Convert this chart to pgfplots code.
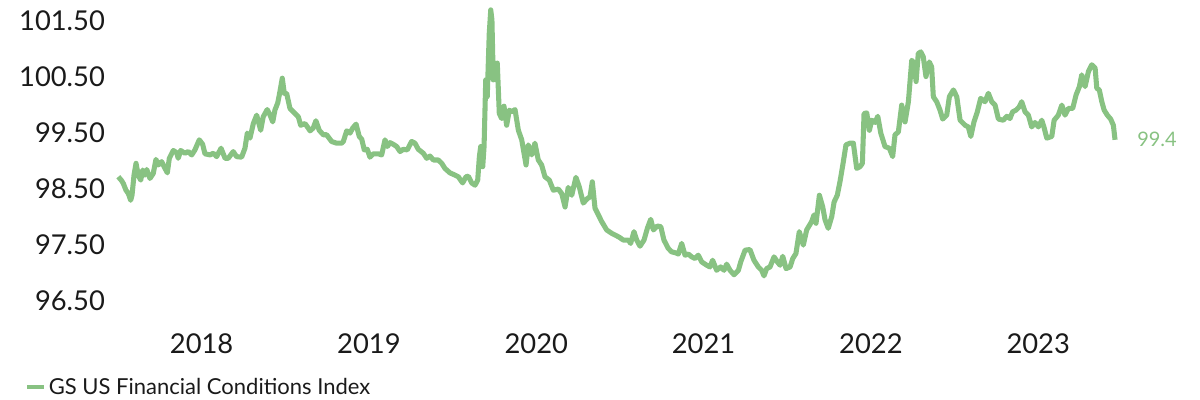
\documentclass[border=0pt]{standalone}
\usepackage{fontspec}
\setmainfont{Lato}
\usepackage{pgfplots}
\pgfplotsset{compat=1.18}
\definecolor{fcigreen}{RGB}{136,194,130}
\definecolor{txt}{RGB}{26,26,26}
\begin{document}
\begin{tikzpicture}
\begin{axis}[
  scale only axis, width=765.5pt, height=245.7pt,
  xmin=2017.95, xmax=2024.05, ymin=96.0, ymax=101.85,
  axis line style={draw=none}, tick style={draw=none},
  major tick length=0pt,
  xtick={2018.5,2019.5,2020.5,2021.5,2022.5,2023.5},
  xticklabels={2018,2019,2020,2021,2022,2023},
  ytick={96.5,97.5,98.5,99.5,100.5,101.5},
  yticklabel style={/pgf/number format/.cd, fixed, fixed zerofill, precision=2, assume math mode=true, /tikz/.cd, font=\fontsize{20.5}{24}\selectfont, text=txt},
  xticklabel style={font=\fontsize{20.5}{24}\selectfont, text=txt},
  clip=false,
  legend style={at={(-0.083,-0.179)}, anchor=west, draw=none, fill=none, font=\fontsize{16.5}{19}\selectfont, text=txt, inner sep=0pt, legend cell align=left},
  legend image code/.code={\draw[#1, line width=3pt] (0pt,0pt) -- (12.75pt,0pt);},
]
\addplot[color=fcigreen, line width=3.8pt, line join=round, mark=none] table {
x y
2018.002 98.71
2018.022 98.64
2018.032 98.59
2018.048 98.47
2018.062 98.41
2018.076 98.29
2018.084 98.38
2018.096 98.74
2018.108 98.95
2018.121 98.74
2018.136 98.65
2018.148 98.83
2018.161 98.74
2018.172 98.84
2018.191 98.68
2018.211 98.77
2018.227 99.02
2018.241 98.92
2018.261 98.98
2018.281 98.86
2018.295 98.78
2018.307 99.04
2018.331 99.18
2018.351 99.14
2018.360 99.04
2018.375 99.18
2018.400 99.13
2018.420 99.16
2018.441 99.10
2018.460 99.19
2018.486 99.37
2018.506 99.29
2018.520 99.12
2018.550 99.10
2018.570 99.13
2018.590 99.07
2018.616 99.22
2018.640 99.04
2018.659 99.04
2018.689 99.16
2018.709 99.07
2018.739 99.06
2018.759 99.22
2018.773 99.49
2018.789 99.40
2018.809 99.66
2018.829 99.81
2018.853 99.54
2018.868 99.78
2018.892 99.91
2018.909 99.81
2018.925 99.69
2018.938 99.90
2018.955 100.03
2018.968 100.23
2018.982 100.47
2018.994 100.20
2019.008 100.20
2019.028 99.93
2019.058 99.84
2019.078 99.78
2019.092 99.63
2019.118 99.66
2019.137 99.58
2019.148 99.53
2019.167 99.58
2019.183 99.71
2019.203 99.54
2019.227 99.46
2019.247 99.46
2019.277 99.34
2019.307 99.31
2019.337 99.31
2019.347 99.34
2019.367 99.53
2019.387 99.49
2019.403 99.58
2019.423 99.65
2019.442 99.43
2019.457 99.38
2019.472 99.19
2019.490 99.20
2019.506 99.06
2019.526 99.12
2019.556 99.12
2019.576 99.10
2019.596 99.37
2019.610 99.25
2019.626 99.32
2019.645 99.29
2019.666 99.25
2019.686 99.16
2019.705 99.20
2019.729 99.19
2019.755 99.34
2019.775 99.31
2019.795 99.20
2019.825 99.13
2019.845 99.04
2019.865 99.08
2019.885 99.01
2019.914 99.01
2019.935 98.95
2019.954 98.86
2019.984 98.78
2020.014 98.74
2020.034 98.71
2020.060 98.60
2020.080 98.71
2020.094 98.72
2020.114 98.60
2020.134 98.56
2020.150 98.65
2020.160 99.07
2020.168 99.25
2020.180 98.89
2020.188 99.25
2020.198 100.44
2020.207 100.14
2020.219 101.27
2020.228 101.69
2020.235 101.51
2020.243 100.44
2020.253 100.74
2020.259 100.44
2020.267 100.74
2020.279 99.84
2020.293 99.75
2020.307 99.97
2020.323 99.63
2020.339 99.90
2020.353 99.87
2020.373 99.91
2020.393 99.54
2020.413 99.37
2020.439 98.92
2020.452 99.28
2020.473 99.10
2020.492 99.31
2020.512 99.01
2020.532 98.92
2020.552 98.71
2020.578 98.65
2020.602 98.47
2020.632 98.49
2020.652 98.41
2020.672 98.17
2020.691 98.52
2020.712 98.38
2020.737 98.70
2020.757 98.53
2020.781 98.24
2020.805 98.32
2020.821 98.35
2020.835 98.62
2020.851 98.15
2020.871 98.03
2020.891 97.91
2020.921 97.76
2020.951 97.70
2020.971 97.67
2020.996 97.63
2021.020 97.58
2021.050 97.58
2021.064 97.52
2021.084 97.73
2021.100 97.58
2021.120 97.47
2021.144 97.58
2021.164 97.79
2021.184 97.95
2021.200 97.76
2021.223 97.83
2021.244 97.82
2021.263 97.58
2021.289 97.43
2021.309 97.37
2021.335 97.35
2021.349 97.33
2021.369 97.52
2021.389 97.31
2021.409 97.33
2021.429 97.28
2021.449 97.25
2021.468 97.31
2021.489 97.19
2021.519 97.13
2021.538 97.10
2021.554 97.22
2021.578 97.04
2021.602 97.10
2021.622 97.04
2021.638 97.15
2021.658 97.04
2021.682 96.96
2021.708 97.04
2021.722 97.19
2021.748 97.40
2021.777 97.41
2021.801 97.22
2021.827 97.10
2021.847 97.04
2021.861 96.94
2021.877 97.07
2021.897 97.10
2021.921 97.28
2021.941 97.19
2021.957 97.13
2021.973 97.29
2021.993 97.07
2022.017 97.10
2022.033 97.25
2022.052 97.34
2022.072 97.73
2022.096 97.49
2022.116 97.76
2022.146 97.91
2022.160 98.03
2022.172 97.88
2022.192 98.38
2022.212 98.17
2022.226 97.94
2022.245 97.79
2022.266 98.00
2022.280 98.26
2022.299 98.38
2022.315 98.62
2022.332 98.92
2022.351 99.28
2022.375 99.31
2022.395 99.31
2022.415 98.86
2022.435 98.89
2022.449 98.95
2022.459 99.84
2022.475 99.85
2022.491 99.54
2022.505 99.72
2022.525 99.68
2022.541 99.79
2022.559 99.49
2022.584 99.25
2022.610 99.22
2022.630 99.07
2022.644 99.46
2022.664 99.51
2022.684 99.99
2022.704 99.69
2022.724 100.05
2022.744 100.79
2022.758 100.74
2022.770 100.41
2022.783 100.91
2022.798 100.94
2022.813 100.85
2022.829 100.50
2022.849 100.76
2022.863 100.67
2022.873 100.14
2022.893 100.05
2022.913 99.90
2022.929 99.74
2022.953 99.81
2022.969 100.14
2022.993 100.26
2023.013 100.14
2023.033 99.72
2023.063 99.63
2023.082 99.60
2023.097 99.43
2023.116 99.69
2023.136 99.87
2023.156 100.11
2023.182 100.05
2023.202 100.20
2023.222 100.05
2023.242 99.99
2023.262 99.74
2023.291 99.72
2023.312 99.79
2023.331 99.75
2023.347 99.87
2023.367 99.90
2023.387 99.96
2023.401 100.05
2023.421 99.87
2023.441 99.81
2023.461 99.60
2023.481 99.68
2023.501 99.60
2023.521 99.72
2023.534 99.60
2023.551 99.40
2023.581 99.43
2023.595 99.72
2023.620 99.81
2023.641 99.99
2023.660 99.81
2023.680 99.93
2023.706 99.93
2023.726 100.17
2023.746 100.32
2023.760 100.53
2023.780 100.32
2023.800 100.59
2023.820 100.71
2023.840 100.65
2023.850 100.29
2023.865 100.26
2023.880 100.05
2023.894 99.90
2023.913 99.81
2023.933 99.74
2023.949 99.63
2023.959 99.37
};
\addlegendentry{GS US Financial Conditions Index}
\node[font=\fontsize{15}{18}\selectfont, text=fcigreen] at (axis cs:2024.21,99.37) {99.4};
\end{axis}
\path[use as bounding box] (-82.2pt,-53.6pt) rectangle (817.8pt,246.4pt);
\end{tikzpicture}
\end{document}
